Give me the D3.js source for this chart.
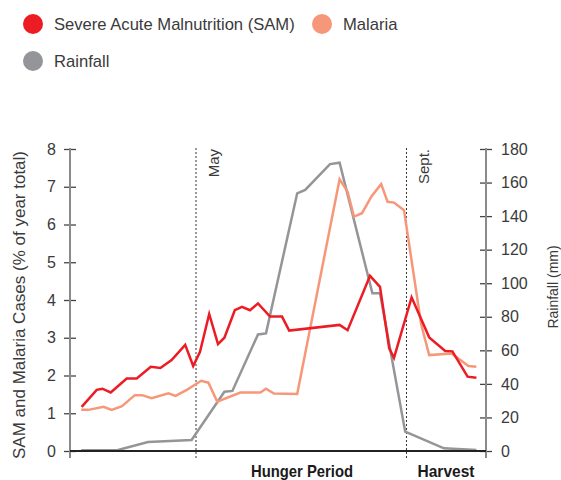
<!DOCTYPE html>
<html>
<head>
<meta charset="utf-8">
<script src="https://cdn.jsdelivr.net/npm/d3@7"></script>
<style>
  body { margin: 0; background: #fff; }
  svg { font-family: "Liberation Sans", Arial, sans-serif; }
</style>
</head>
<body>
<div id="chart"></div>
<script>
// weeks of the year
const samWeeks = [1.46, 3.34, 4.04, 5.09, 7.09, 8.34, 10.1, 11.3, 12.7, 14.4, 15.4, 16.25, 17.4, 18.5, 19.3, 20.6, 21.5, 22.5, 23.5, 25.0, 26.5, 27.4, 33.7, 34.7, 37.5, 38.75, 39.9, 40.5, 42.7, 44.9, 46.9, 47.8, 49.7, 50.8];
const samCases = [1.17, 1.62, 1.65, 1.55, 1.92, 1.92, 2.23, 2.2, 2.41, 2.81, 2.25, 2.63, 3.63, 2.83, 3.0, 3.73, 3.82, 3.73, 3.91, 3.56, 3.56, 3.19, 3.34, 3.2, 4.64, 4.35, 2.72, 2.47, 4.07, 3.01, 2.65, 2.64, 1.97, 1.94];

const malariaWeeks = [1.4, 2.3, 4.2, 5.2, 6.5, 8.1, 9.0, 10.2, 12.3, 13.2, 14.6, 16.4, 17.3, 18.4, 21.3, 23.8, 24.5, 25.5, 28.4, 33.7, 34.7, 35.5, 36.5, 37.7, 38.9, 39.7, 40.5, 41.75, 43.9, 44.9, 47.7, 49.8, 50.8];
const malariaCases = [1.09, 1.09, 1.17, 1.09, 1.19, 1.48, 1.48, 1.40, 1.53, 1.46, 1.62, 1.86, 1.81, 1.31, 1.55, 1.55, 1.65, 1.52, 1.51, 7.2, 6.87, 6.21, 6.30, 6.75, 7.07, 6.60, 6.58, 6.38, 3.35, 2.54, 2.58, 2.25, 2.23];

const rainWeeks = [1.4, 6.0, 9.75, 15.2, 19.3, 20.3, 23.5, 24.5, 28.4, 29.4, 32.5, 33.7, 37.8, 38.75, 41.9, 46.75, 50.8];
const rainMm = [0.5, 0.6, 5.4, 6.6, 35.3, 35.8, 69.5, 70.1, 153.6, 155.6, 171, 171.8, 94, 94, 11.5, 1.6, 0.6];

const casesTicks = [0, 1, 2, 3, 4, 5, 6, 7, 8];
const rainTicks = [0, 20, 40, 60, 80, 100, 120, 140, 160, 180];

const markers = [{ week: 15.75, label: "May" }, { week: 42.06, label: "Sept." }];
const periods = [{ week: 29, label: "Hunger Period", len: 102 }, { week: 47, label: "Harvest", len: 57 }];

const legendItems = [
  { label: "Severe Acute Malnutrition (SAM)", color: "#ed1c24" },
  { label: "Malaria", color: "#f7977a" },
  { label: "Rainfall", color: "#939598" }
];

const width = 561, height = 480;
const plotLeft = 70, plotRight = 486, plotTop = 149, plotBottom = 451;

const svg = d3.select("#chart").append("svg")
  .attr("width", width)
  .attr("height", height);

const x = d3.scaleLinear().domain([0, 52]).range([plotLeft, plotRight]);
const y = d3.scaleLinear().domain([0, 8]).range([plotBottom, plotTop]);
const y2 = d3.scaleLinear().domain([0, 180]).range([plotBottom, plotTop]);

// legend
const legendPos = [[33, 24], [322, 24], [33, 61]];
legendItems.forEach((d, i) => {
  const [lx, ly] = legendPos[i];
  svg.append("circle").attr("cx", lx).attr("cy", ly).attr("r", 10).attr("fill", d.color);
  svg.append("text").attr("x", lx + 21).attr("y", ly + 6)
    .attr("font-size", 16.6).attr("fill", "#3a3a3a").text(d.label);
});

// axes
const yAxis = svg.append("g")
  .attr("transform", `translate(${plotLeft},0)`)
  .call(d3.axisLeft(y).tickValues(casesTicks).tickSizeInner(6).tickSizeOuter(0).tickPadding(8));

const y2Axis = svg.append("g")
  .attr("transform", `translate(${plotRight},0)`)
  .call(d3.axisRight(y2).tickValues(rainTicks).tickSizeInner(6).tickSizeOuter(0).tickPadding(9));

[yAxis, y2Axis].forEach(g => {
  g.select(".domain").remove();
  g.selectAll(".tick line").attr("x1", -6).attr("x2", 6).attr("stroke", "#444").attr("stroke-width", 1.3);
  g.selectAll(".tick text").attr("font-size", 16).attr("fill", "#3a3a3a").attr("font-family", "Liberation Sans, Arial, sans-serif");
});

svg.append("line").attr("x1", plotLeft).attr("x2", plotLeft).attr("y1", plotTop - 1).attr("y2", plotBottom + 7)
  .attr("stroke", "#8a8a8a").attr("stroke-width", 2);
svg.append("line").attr("x1", plotRight).attr("x2", plotRight).attr("y1", plotTop - 1).attr("y2", plotBottom + 7)
  .attr("stroke", "#8a8a8a").attr("stroke-width", 2);

// axis titles
svg.append("text")
  .attr("transform", `translate(25,${(plotTop + plotBottom) / 2 + 5}) rotate(-90)`)
  .attr("text-anchor", "middle").attr("font-size", 17).attr("fill", "#3a3a3a")
  .text("SAM and Malaria Cases (% of year total)");

svg.append("text")
  .attr("transform", `translate(558,287) rotate(-90)`)
  .attr("text-anchor", "middle").attr("font-size", 14).attr("fill", "#3a3a3a")
  .text("Rainfall (mm)");

// month markers
markers.forEach(m => {
  svg.append("line")
    .attr("x1", x(m.week)).attr("x2", x(m.week))
    .attr("y1", plotTop - 1).attr("y2", plotBottom + 7)
    .attr("stroke", "#333").attr("stroke-width", 1).attr("stroke-dasharray", "2,2");
  svg.append("text")
    .attr("transform", `translate(${x(m.week) + 23},${plotTop}) rotate(-90)`)
    .attr("text-anchor", "end").attr("font-size", 15).attr("fill", "#3a3a3a")
    .text(m.label);
});

// period labels
periods.forEach(p => {
  svg.append("text")
    .attr("x", x(p.week)).attr("y", 477)
    .attr("text-anchor", "middle")
    .attr("font-weight", "bold").attr("font-size", 17).attr("fill", "#1a1a1a")
    .attr("textLength", p.len).attr("lengthAdjust", "spacingAndGlyphs")
    .text(p.label);
});

// lines
const line = d3.line().x(d => x(d[0])).y(d => d[1]);

svg.append("path")
  .datum(rainWeeks.map((w, i) => [w, y2(rainMm[i])]))
  .attr("d", line).attr("fill", "none").attr("stroke", "#939598").attr("stroke-width", 2.5);

svg.append("line").attr("x1", plotLeft).attr("x2", plotRight).attr("y1", plotBottom).attr("y2", plotBottom)
  .attr("stroke", "#222").attr("stroke-width", 2);

svg.append("path")
  .datum(malariaWeeks.map((w, i) => [w, y(malariaCases[i])]))
  .attr("d", line).attr("fill", "none").attr("stroke", "#f7977a").attr("stroke-width", 2.5);

svg.append("path")
  .datum(samWeeks.map((w, i) => [w, y(samCases[i])]))
  .attr("d", line).attr("fill", "none").attr("stroke", "#ed1c24").attr("stroke-width", 2.5);
</script>
</body>
</html>
